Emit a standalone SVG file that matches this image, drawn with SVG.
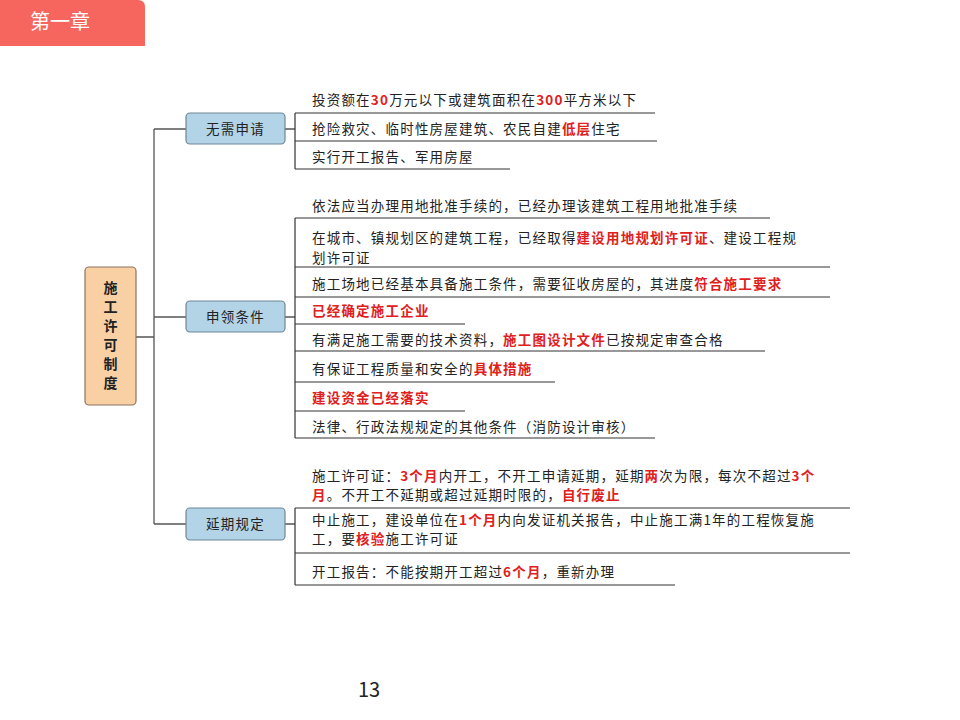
<svg xmlns="http://www.w3.org/2000/svg" width="960" height="720" viewBox="0 0 960 720">
<style>
text{font-family:"Noto Sans CJK SC","Liberation Sans",sans-serif;font-size:13.5px;fill:#222}
.t{letter-spacing:1.2px}
.r{fill:#e0201c;font-weight:bold}
.ln{stroke:#555;stroke-width:1.3;fill:none}
.ul{stroke:#333;stroke-width:1.2;fill:none}
.b{fill:#b3d3e6;stroke:#6d8796;stroke-width:1.2}
</style>
<rect width="960" height="720" fill="#fff"/>
<path d="M0 0H138Q145 0 145 7V46H0Z" fill="#f6665e"/>
<text x="30" y="29" style="font-size:20px;fill:#fff">第一章</text>
<g id="connectors">
<path class="ln" d="M154 129V524M136 337H154M154 129H186M154 317H186M154 524H186M285 129H295M285 317H295M285 524H295"/>
<path class="ul" d="M295 113V169M295 113H655M295 141H657M295 169H510"/>
<path class="ul" d="M295 218V438M295 218H770M295 267H830M295 297H830M295 324H465M295 351H765M295 382H555M295 411H465M295 438H655"/>
<path class="ul" d="M295 508V585M295 508H850M295 553H850M295 585H675"/>
</g>
<g id="root"><rect x="85" y="267" width="51" height="138" rx="4" fill="#f9cfa4" stroke="#8a7560" stroke-width="1.2"/>
<text x="110.5" y="293" text-anchor="middle" style="font-weight:bold;font-size:14px">施</text>
<text x="110.5" y="312" text-anchor="middle" style="font-weight:bold;font-size:14px">工</text>
<text x="110.5" y="331" text-anchor="middle" style="font-weight:bold;font-size:14px">许</text>
<text x="110.5" y="350" text-anchor="middle" style="font-weight:bold;font-size:14px">可</text>
<text x="110.5" y="369" text-anchor="middle" style="font-weight:bold;font-size:14px">制</text>
<text x="110.5" y="388" text-anchor="middle" style="font-weight:bold;font-size:14px">度</text></g>
<g id="n1"><rect class="b" x="186" y="113" width="99" height="31" rx="4"/><text class="t" x="235.5" y="134" text-anchor="middle">无需申请</text></g>
<g id="n2"><rect class="b" x="186" y="301" width="99" height="31" rx="4"/><text class="t" x="235.5" y="322" text-anchor="middle">申领条件</text></g>
<g id="n3"><rect class="b" x="186" y="508" width="99" height="32" rx="4"/><text class="t" x="235.5" y="529" text-anchor="middle">延期规定</text></g>
<g id="leaves" class="t">
<text class="t" x="312" y="105">投资额在<tspan class="r">30</tspan>万元以下或建筑面积在<tspan class="r">300</tspan>平方米以下</text>
<text class="t" x="312" y="134">抢险救灾、临时性房屋建筑、农民自建<tspan class="r">低层</tspan>住宅</text>
<text class="t" x="312" y="162">实行开工报告、军用房屋</text>
<text class="t" x="312" y="211">依法应当办理用地批准手续的，已经办理该建筑工程用地批准手续</text>
<text class="t" x="312" y="243">在城市、镇规划区的建筑工程，已经取得<tspan class="r">建设用地规划许可证</tspan>、建设工程规</text>
<text class="t" x="312" y="263">划许可证</text>
<text class="t" x="312" y="289">施工场地已经基本具备施工条件，需要征收房屋的，其进度<tspan class="r">符合施工要求</tspan></text>
<text class="t r" x="312" y="316">已经确定施工企业</text>
<text class="t" x="312" y="345">有满足施工需要的技术资料，<tspan class="r">施工图设计文件</tspan>已按规定审查合格</text>
<text class="t" x="312" y="374">有保证工程质量和安全的<tspan class="r">具体措施</tspan></text>
<text class="t r" x="312" y="403">建设资金已经落实</text>
<text class="t" x="312" y="432">法律、行政法规规定的其他条件（消防设计审核）</text>
<text class="t" x="312" y="481">施工许可证：<tspan class="r">3个月</tspan>内开工，不开工申请延期，延期<tspan class="r">两</tspan>次为限，每次不超过<tspan class="r">3个</tspan></text>
<text class="t" x="312" y="500"><tspan class="r">月</tspan>。不开工不延期或超过延期时限的，<tspan class="r">自行废止</tspan></text>
<text class="t" x="312" y="525">中止施工，建设单位在<tspan class="r">1个月</tspan>内向发证机关报告，中止施工满1年的工程恢复施</text>
<text class="t" x="312" y="544">工，要<tspan class="r">核验</tspan>施工许可证</text>
<text class="t" x="312" y="577">开工报告：不能按期开工超过<tspan class="r">6个月</tspan>，重新办理</text>
</g>
<text x="358" y="697" style="font-size:20px;fill:#222">13</text>
</svg>
